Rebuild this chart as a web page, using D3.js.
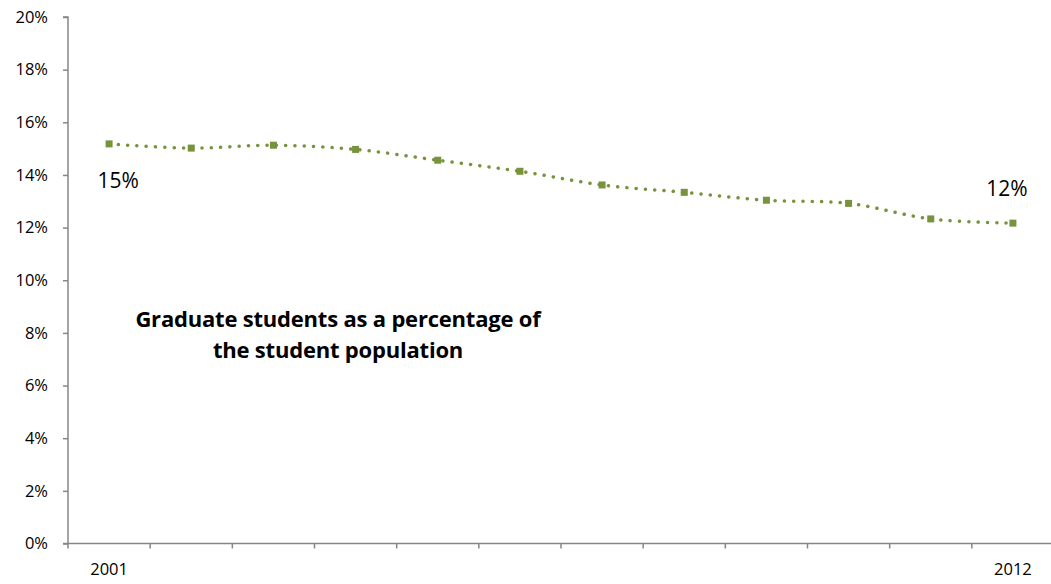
<!DOCTYPE html>
<html><head><meta charset="utf-8">
<script src="https://cdn.jsdelivr.net/npm/d3@7"></script>
<style>
body{margin:0;background:#fff;}
text{font-family:"Open Sans", sans-serif;fill:#000;}
</style></head>
<body><svg id="c" width="1051" height="584"></svg>
<script>
const years = [2001,2002,2003,2004,2005,2006,2007,2008,2009,2010,2011,2012];
const values = [15.18,15.02,15.13,14.97,14.56,14.14,13.62,13.34,13.04,12.92,12.33,12.17];
const yTicks = [0,2,4,6,8,10,12,14,16,18,20];
const xLabelYears = [2001,2012];
const endLabels = ["15%","12%"];
const titleLines = ["Graduate students as a percentage of","the student population"];

(function(){
const svg = d3.select("#c");
const pl = 68, pr = 1054, pt = 17, pb = 543.5;
const x = d3.scaleBand().domain(years).range([pl, pr]);
const y = d3.scaleLinear().domain([0,20]).range([pb, pt]);
const green = "#77933C", axisCol = "#868686";
const tickFont = 16.5;

// y axis
const ya = svg.append("g").attr("transform",`translate(${pl},0)`)
  .call(d3.axisLeft(y).tickValues(yTicks).tickSize(5).tickPadding(15).tickFormat(d=>d+"%"));
ya.select(".domain").attr("stroke",axisCol).attr("stroke-width",1.5).attr("d",`M-5,${pt}H0V${pb}`);
ya.selectAll(".tick line").attr("stroke",axisCol).attr("stroke-width",1.5);
ya.selectAll(".tick text").attr("font-size",tickFont).attr("font-family","Open Sans").attr("fill","#000");

// x axis
const xa = svg.append("g").attr("transform",`translate(0,${pb})`);
xa.append("line").attr("x1",pl-5).attr("x2",1051).attr("stroke",axisCol).attr("stroke-width",1.5);
const bounds = years.map(d=>x(d));
xa.selectAll("line.t").data(bounds).enter().append("line")
  .attr("x1",d=>d).attr("x2",d=>d).attr("y1",0).attr("y2",5).attr("stroke",axisCol).attr("stroke-width",1.5);
xa.selectAll("text").data(xLabelYears).enter().append("text")
  .attr("x",d=>x(d)+x.bandwidth()/2).attr("y",31.5).attr("text-anchor","middle").attr("font-size",tickFont).text(d=>d);

// line
const cx = d => x(d)+x.bandwidth()/2;
const pts = years.map((d,i)=>[cx(d), y(values[i])]);
svg.append("path").attr("d", d3.line().curve(d3.curveCatmullRom.alpha(0.5))(pts))
  .attr("fill","none").attr("stroke",green).attr("stroke-width",3.5)
  .attr("stroke-linecap","round").attr("stroke-dasharray","0.1 9.2");
svg.selectAll("rect.m").data(pts).enter().append("rect")
  .attr("x",d=>d[0]-3.5).attr("y",d=>d[1]-3.5).attr("width",7).attr("height",7).attr("fill",green);

// end labels
svg.append("text").attr("x",cx(years[0])+9).attr("y",y(values[0])+44).attr("text-anchor","middle").attr("font-size",21).text(endLabels[0]);
svg.append("text").attr("x",cx(years[11])-6).attr("y",y(values[11])-27).attr("text-anchor","middle").attr("font-size",21).text(endLabels[1]);

// title
svg.selectAll("text.t").data(titleLines).enter().append("text")
  .attr("x",338).attr("y",(d,i)=>327+i*31).attr("text-anchor","middle")
  .attr("font-size",22).attr("font-weight","bold").attr("letter-spacing",-0.2).text(d=>d);
})();
</script></body></html>
